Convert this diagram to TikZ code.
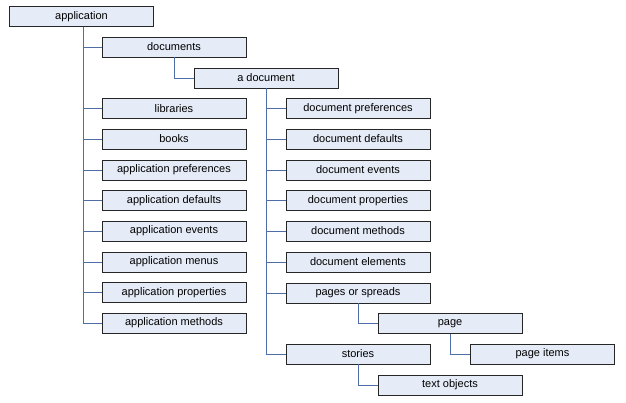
\documentclass[tikz,border=0pt]{standalone}
\usepackage{fontspec}
\setmainfont{Liberation Sans}
\definecolor{boxfill}{RGB}{229,235,247}
\definecolor{linkblue}{RGB}{79,109,166}
\begin{document}
\begin{tikzpicture}[x=1pt,y=-1pt,
  obj/.style={draw=black!85,fill=boxfill,line width=0.9pt,minimum width=144pt,minimum height=20pt,inner sep=0pt,font=\fontsize{11}{13}\selectfont},
  link/.style={draw=linkblue,line width=0.9pt}]
\useasboundingbox (0,0) rectangle (626,402);
\node[obj] (app) at (81.5,16.5) {application};
\node[obj] (docs) at (174,47) {documents};
\node[obj] (adoc) at (266,78) {a document};
\node[obj] (lib) at (174,108.5) {libraries};
\node[obj] (books) at (174,139) {books};
\node[obj] (aprefs) at (174,170) {application preferences};
\node[obj] (adef) at (174,200.5) {application defaults};
\node[obj] (aev) at (174,231) {application events};
\node[obj] (amenus) at (174,262) {application menus};
\node[obj] (aprops) at (174,292.5) {application properties};
\node[obj] (ameth) at (174,323) {application methods};
\node[obj] (dprefs) at (358,108.5) {document preferences};
\node[obj] (ddef) at (358,139) {document defaults};
\node[obj] (dev) at (358,170) {document events};
\node[obj] (dprops) at (358,200.5) {document properties};
\node[obj] (dmeth) at (358,231) {document methods};
\node[obj] (delem) at (358,262) {document elements};
\node[obj] (pages) at (358,293) {pages or spreads};
\node[obj] (page) at (450,323.5) {page};
\node[obj] (pitems) at (542.5,354) {page items};
\node[obj] (stories) at (358,354) {stories};
\node[obj] (tobj) at (450,385) {text objects};
\foreach \c in {docs,lib,books,aprefs,adef,aev,amenus,aprops,ameth}
  \draw[link] ([xshift=1.5pt]app.south) |- (\c.west);
\draw[link] (docs.south) |- (adoc.west);
\foreach \c in {dprefs,ddef,dev,dprops,dmeth,delem,pages,stories}
  \draw[link] (adoc.south) |- (\c.west);
\draw[link] (pages.south) |- (page.west);
\draw[link] (page.south) |- (pitems.west);
\draw[link] (stories.south) |- (tobj.west);
\end{tikzpicture}
\end{document}
